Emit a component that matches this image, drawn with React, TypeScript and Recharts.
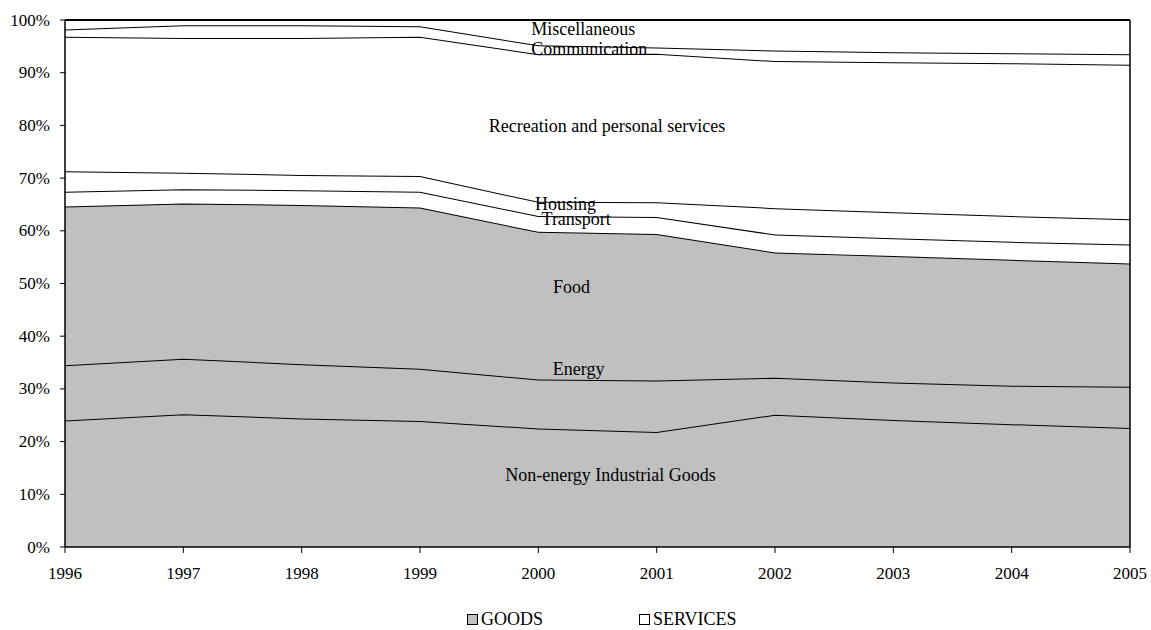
import { AreaChart, Area, XAxis, YAxis, ReferenceLine, ReferenceDot } from 'recharts';

const YEARS = [1996, 1997, 1998, 1999, 2000, 2001, 2002, 2003, 2004, 2005];

// shares in % of total, bottom to top
const NON_ENERGY = [24.0, 25.2, 24.4, 23.9, 22.5, 21.8, 25.1, 24.1, 23.3, 22.6];
const ENERGY = [10.5, 10.5, 10.3, 9.9, 9.3, 9.8, 7.0, 7.1, 7.3, 7.8];
const FOOD = [30.1, 29.5, 30.2, 30.6, 28.0, 27.8, 23.8, 24.0, 23.9, 23.4];
const TRANSPORT = [2.8, 2.7, 2.8, 3.0, 3.0, 3.2, 3.4, 3.4, 3.4, 3.6];
const HOUSING = [3.9, 3.1, 2.9, 3.0, 2.7, 2.8, 5.0, 4.9, 4.9, 4.8];
const RECREATION = [25.5, 25.6, 26.0, 26.4, 28.0, 28.2, 27.9, 28.5, 29.0, 29.3];
const COMMUNICATION = [1.4, 2.4, 2.4, 2.0, 1.7, 1.2, 2.0, 1.9, 1.9, 2.0];
const MISC = [1.8, 1.0, 1.0, 1.2, 4.8, 5.2, 5.8, 6.1, 6.3, 6.5];

const Y_TICKS = [0, 10, 20, 30, 40, 50, 60, 70, 80, 90, 100];

const GOODS = '#c0c0c0';
const SERVICES = '#ffffff';
const FONT = '"Liberation Serif", "Times New Roman", serif';

const SERIES = [
  { key: 'neig', name: 'Non-energy Industrial Goods', values: NON_ENERGY, fill: GOODS },
  { key: 'energy', name: 'Energy', values: ENERGY, fill: GOODS },
  { key: 'food', name: 'Food', values: FOOD, fill: GOODS },
  { key: 'transport', name: 'Transport', values: TRANSPORT, fill: SERVICES },
  { key: 'housing', name: 'Housing', values: HOUSING, fill: SERVICES },
  { key: 'recreation', name: 'Recreation and personal services', values: RECREATION, fill: SERVICES },
  { key: 'communication', name: 'Communication', values: COMMUNICATION, fill: SERVICES },
  { key: 'misc', name: 'Miscellaneous', values: MISC, fill: SERVICES },
];

// in-chart labels, placed in data space (year, %)
const LABELS = [
  { text: 'Miscellaneous', x: 2000.38, y: 98.2 },
  { text: 'Communication', x: 2000.43, y: 94.5 },
  { text: 'Recreation and personal services', x: 2000.58, y: 79.9 },
  { text: 'Housing', x: 2000.23, y: 65.0 },
  { text: 'Transport', x: 2000.32, y: 62.3 },
  { text: 'Food', x: 2000.28, y: 49.3 },
  { text: 'Energy', x: 2000.34, y: 33.8 },
  { text: 'Non-energy Industrial Goods', x: 2000.61, y: 13.7 },
];

const LEGEND = [
  { name: 'GOODS', fill: GOODS, left: 467 },
  { name: 'SERVICES', fill: SERVICES, left: 639 },
];

const data = YEARS.map((year, i) => {
  const row: Record<string, number> = { year };
  SERIES.forEach(s => { row[s.key] = s.values[i]; });
  return row;
});

// plain svg ticks so the serif font sticks
const XTick = ({ x, y, payload }: any) => (
  <text x={x} y={y + 16} textAnchor="middle" fontSize={17} fontFamily={FONT} fill="#000">
    {payload.value}
  </text>
);

const YTick = ({ x, y, payload }: any) => (
  <text x={x} y={y} textAnchor="end" dominantBaseline="central" fontSize={17} fontFamily={FONT} fill="#000">
    {payload.value}%
  </text>
);

export default function App() {
  return (
    <div style={{ position: 'absolute', left: 0, top: 0, width: 1151, height: 630, background: '#fff', fontFamily: FONT }}>
      <AreaChart
        width={1151}
        height={630}
        data={data}
        margin={{ top: 20, right: 21, bottom: 53, left: 0 }}
        style={{ fontFamily: FONT }}
      >
        <XAxis
          dataKey="year"
          type="number"
          domain={[1996, 2005]}
          ticks={YEARS}
          interval={0}
          tickSize={6}
          tickMargin={10}
          tick={<XTick />}
          axisLine={{ stroke: '#000', strokeWidth: 1.5 }}
          tickLine={{ stroke: '#000' }}
          height={30}
        />
        <YAxis
          domain={[0, 100]}
          ticks={Y_TICKS}
          interval={0}
          width={65}
          tickSize={5}
          tickMargin={10}
          tick={<YTick />}
          axisLine={{ stroke: '#000', strokeWidth: 1.5 }}
          tickLine={{ stroke: '#000' }}
        />
        {SERIES.map(s => (
          <Area
            key={s.key}
            dataKey={s.key}
            name={s.name}
            stackId="1"
            type="linear"
            fill={s.fill}
            fillOpacity={1}
            stroke="#000"
            strokeWidth={2}
            isAnimationActive={false}
            dot={false}
            activeDot={false}
          />
        ))}
        <ReferenceLine y={100} stroke="#000" strokeWidth={1.5} />
        <ReferenceLine x={2005} stroke="#000" strokeWidth={1.5} />
        {LABELS.map(l => (
          <ReferenceDot
            key={l.text}
            x={l.x}
            y={l.y}
            r={0}
            ifOverflow="visible"
            shape={(p: any) => (
              <text
                x={p.cx}
                y={p.cy}
                textAnchor="middle"
                dominantBaseline="central"
                fontSize={18}
                fontFamily={FONT}
                fill="#000"
              >
                {l.text}
              </text>
            )}
          />
        ))}
      </AreaChart>
      {LEGEND.map(item => (
        <div
          key={item.name}
          style={{ position: 'absolute', left: item.left, top: 609, display: 'flex', alignItems: 'center', fontSize: 18, color: '#000', lineHeight: '20px' }}
        >
          <span style={{ display: 'inline-block', width: 9, height: 9, background: item.fill, border: '1px solid #000', marginRight: 3 }} />
          {item.name}
        </div>
      ))}
    </div>
  );
}
